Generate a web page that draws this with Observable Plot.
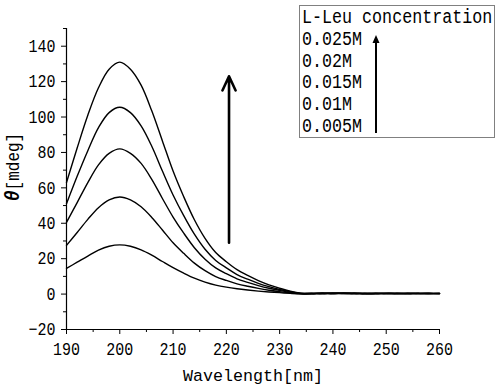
<!DOCTYPE html>
<html><head><meta charset="utf-8">
<script src="https://cdn.jsdelivr.net/npm/d3@7"></script>
<script src="https://cdn.jsdelivr.net/npm/@observablehq/plot@0.6"></script>
<style>
body{margin:0;background:#fff;}
#wrap{position:relative;width:500px;height:387px;overflow:hidden;}
#legend{position:absolute;left:299px;top:5px;width:192px;height:129px;padding-top:2px;border:1px solid #808080;padding-left:2px;background:#fff;font-size:16.7px;line-height:21.8px;white-space:pre;color:#000;font-family:"Liberation Mono","DejaVu Sans Mono",monospace;}
#legend div{transform:scale(1,1.2);transform-origin:0 15.4px;}
#legarrow{position:absolute;left:370px;top:30px;}
</style></head>
<body><div id="wrap"></div>
<script>
// ---- data ----
const wavelength = [190,192,194,196,198,200,202,204,206,208,210,212,214,216,218,220,222,224,226,228,230,232,234,236,238,240,242,244,246,248,250,252,254,256,258,260];
const seriesNames = ["0.025M","0.02M","0.015M","0.01M","0.005M"];
const c025 = [63,82.5,101,116.5,127,131,127,118,103.5,86.5,69.5,55,42,31.5,23.5,18.3,13.8,10.5,7.6,5.2,3.3,1.6,0.5, 0.3,0.6,0.4,0.5,0.2,0.4,0.3,0.5,0.3,0.4,0.2,0.4,0.4];
const c020 = [51,66.5,81,94,102.5,105.5,102.5,95,83.5,69.5,56,44.3,33.8,25.3,19,14.8,11,8.4,6.1,4.2,2.6,1.3,0.4, 0.5,0.3,0.6,0.3,0.4,0.2,0.5,0.3,0.4,0.3,0.5,0.3,0.3];
const c015 = [40.5,51.7,63,73,79.5,82,79.5,73.8,64.8,54,43.5,34.4,26.2,19.7,14.8,11.5,8.6,6.6,4.8,3.3,2.1,1.0,0.3, 0.2,0.5,0.3,0.6,0.3,0.5,0.2,0.4,0.5,0.2,0.4,0.5,0.3];
const c010 = [27.5,34.8,42.2,48.8,53.2,54.8,53.2,49.3,43.3,36.2,29,23,17.5,13.2,9.9,7.7,5.8,4.4,3.2,2.2,1.4,0.7,0.2, 0.4,0.2,0.5,0.4,0.6,0.3,0.4,0.2,0.3,0.5,0.3,0.2,0.4];
const c005 = [14.5,18,21.5,24.8,27,27.8,27,25,22,18.4,14.9,11.8,9,6.8,5.1,3.9,3,2.3,1.7,1.2,0.8,0.4,0.1, 0.1,0.4,0.2,0.3,0.4,0.1,0.3,0.4,0.2,0.3,0.4,0.3,0.2];
const xTicks = [190,200,210,220,230,240,250,260];
const xMinor = [195,205,215,225,235,245,255];
const yTicks = [-20,0,20,40,60,80,100,120,140];
const yMinor = [-10,10,30,50,70,90,110,130,150];
const arrowWavelength = [220.5];
const arrowFrom = [29];
const arrowTo = [123];
const legendTitle = "L-Leu concentration";
const xLabel = "Wavelength[nm]";

// ---- build table ----
const allSeries = [c025,c020,c015,c010,c005];
const rows = [];
allSeries.forEach((s,i)=>s.forEach((v,j)=>rows.push({series:seriesNames[i], wl:wavelength[j], v})));
const arrows = arrowWavelength.map((x,i)=>({x, y1:arrowFrom[i], y2:arrowTo[i]}));
const monoFamily = '"Liberation Mono","DejaVu Sans Mono",monospace';

const plot = Plot.plot({
  width:500, height:387,
  marginLeft:66, marginRight:61, marginTop:28, marginBottom:58,
  style:{fontFamily:monoFamily, fontSize:"15px", color:"#000", background:"#fff", overflow:"visible"},
  x:{domain:[190,260]},
  y:{domain:[-20,150]},
  marks:[
    Plot.axisX({ticks:xTicks, tickSize:5, tickPadding:8, label:null, fontSize:15, tickFormat:d=>String(d)}),
    Plot.axisX({ticks:xMinor, tickSize:3, label:null, tickFormat:()=>""}),
    Plot.axisY({ticks:yTicks, tickSize:5, tickPadding:6, label:null, fontSize:15, tickFormat:d=>d<0?"\u2212"+(-d):String(d)}),
    Plot.axisY({ticks:yMinor, tickSize:3, label:null, tickFormat:()=>""}),
    Plot.ruleX([190],{stroke:"#000", strokeWidth:1.2}),
    Plot.ruleY([-20],{stroke:"#000", strokeWidth:1.2}),
    Plot.line(rows,{x:"wl", y:"v", z:"series", stroke:"#000", strokeWidth:1.4, curve:"catmull-rom"}),
    Plot.arrow(arrows,{x1:"x", x2:"x", y1:"y1", y2:"y2", stroke:"#000", strokeWidth:2.6, headLength:9, headAngle:50}),
    Plot.text([xLabel],{frameAnchor:"bottom", lineAnchor:"bottom", dy:51, fontSize:16.7, fill:"#000", ariaLabel:"xlabel"})
  ]
});
const wrap = document.getElementById("wrap");
wrap.appendChild(plot);

// taller glyphs, closer to the reference's narrow font
const svg = d3.select(plot);
svg.selectAll('g[aria-label="x-axis tick label"] text, g[aria-label="y-axis tick label"] text, g[aria-label="xlabel"] text')
  .attr("transform", function(){ return (this.getAttribute("transform")||"") + " scale(1,1.2)"; });

// y label with bold italic theta
const yl = svg.append("text")
  .attr("transform","translate(19,167) rotate(-90) scale(1,1.15)")
  .attr("text-anchor","middle")
  .attr("font-size",16)
  .attr("fill","#000");
yl.append("tspan").attr("font-weight","bold").attr("font-style","italic").attr("font-size",18).text("\u03b8");
yl.append("tspan").text("[mdeg]");

// legend
const leg = document.createElement("div");
leg.id = "legend";
const t = document.createElement("div"); t.textContent = legendTitle; leg.appendChild(t);
seriesNames.forEach(n=>{const d=document.createElement("div"); d.textContent=n; leg.appendChild(d);});
wrap.appendChild(leg);
const la = d3.select(wrap).append("svg").attr("id","legarrow").attr("width",12).attr("height",108);
la.append("line").attr("x1",6).attr("x2",6).attr("y1",103).attr("y2",10).attr("stroke","#000").attr("stroke-width",2);
la.append("path").attr("d","M6,5 L2.5,13 L9.5,13 Z").attr("fill","#000");
</script></body></html>
